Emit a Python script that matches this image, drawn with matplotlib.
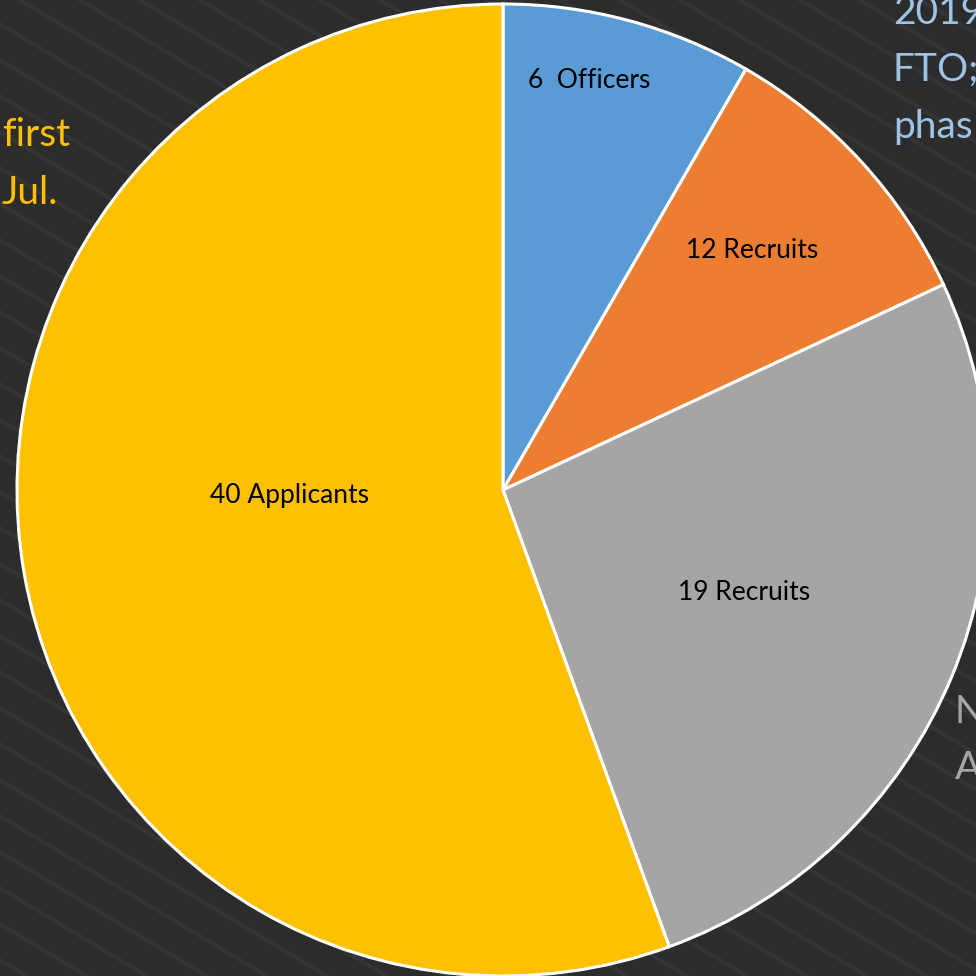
import matplotlib.pyplot as plt
import numpy as np

# slice sizes as drawn (angles) and their data labels
sizes = [6, 7, 19, 40]
labels = ["6  Officers", "12 Recruits", "19 Recruits", "40 Applicants"]
colors = ["#5B9BD5", "#ED7D31", "#A5A5A5", "#FFC000"]

# clipped slide text around the chart
left_text = ["first", "Jul."]
top_right_text = ["2019", "FTO;", "phas"]
right_text = ["N", "A"]

W = H = 976
fig = plt.figure(figsize=(9.76, 9.76), dpi=100)
fig.patch.set_facecolor("#2c2c2c")
ax = fig.add_axes([0, 0, 1, 1])

# faint diagonal stripes of the slide background
xs = np.array([-50, W + 50])
for c in np.arange(-200, H + 800, 36):
    ax.plot(xs, c - 0.6 * xs, color="#3b3b3b", lw=3, alpha=0.6, zorder=0)

cx, cy, r = 503, H - 490, 486
wedges, _ = ax.pie(sizes, colors=colors, startangle=90, counterclock=False,
                   center=(cx, cy), radius=r, frame=True,
                   wedgeprops=dict(edgecolor="white", linewidth=2.2))
ax.set_xlim(0, W)
ax.set_ylim(0, H)
ax.set_aspect("equal")
ax.axis("off")

font = ["Lato", "DejaVu Sans"]
label_pos = [(589, 81), (752, 251), (744, 592), (289, 496)]
for (x, y), t in zip(label_pos, labels):
    ax.text(x, H - y, t, ha="center", va="center", fontsize=19,
            family=font, color="black", zorder=5)

for i, t in enumerate(left_text):
    ax.text(2, H - (135 + 58 * i), t, ha="left", va="center", fontsize=28,
            family=font, color="#FFC000")
for i, t in enumerate(top_right_text):
    ax.text(893, H - (13 + 57 * i), t, ha="left", va="center", fontsize=28,
            family=font, color="#9DC3E6")
for i, t in enumerate(right_text):
    ax.text(955, H - (712 + 56 * i), t, ha="left", va="center", fontsize=28,
            family=font, color="#A6A6A6")

fig.savefig("out.png", dpi=100, facecolor=fig.get_facecolor())
